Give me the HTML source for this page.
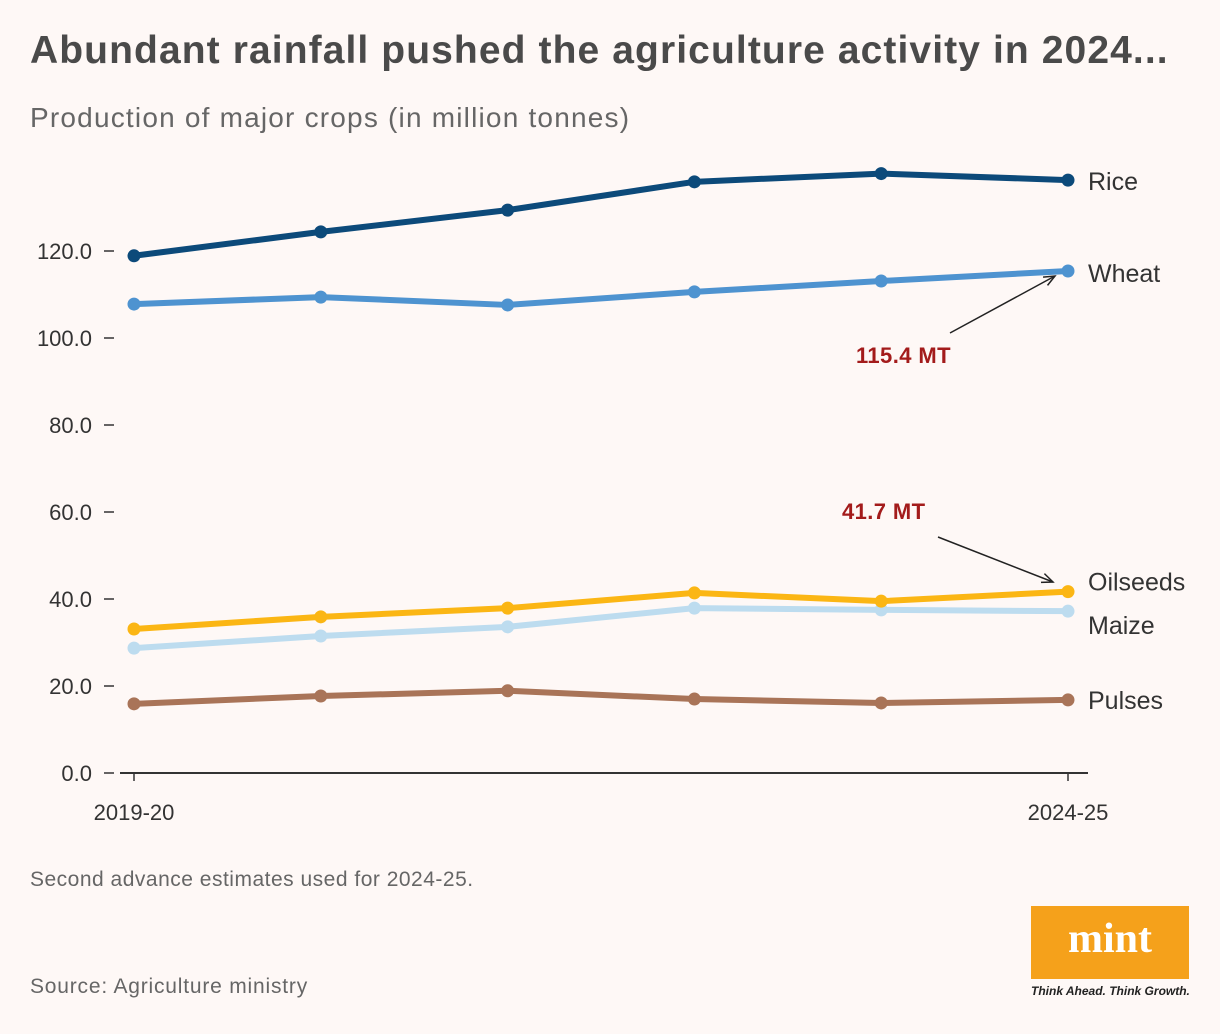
<!DOCTYPE html>
<html><head><meta charset="utf-8"><style>
body{margin:0;background:#fef8f6;font-family:"Liberation Sans",sans-serif;}
#wrap{position:relative;width:1220px;height:1034px;overflow:hidden;background:#fef8f6;}
.t{position:absolute;white-space:nowrap;}
</style></head><body>
<div id="wrap">
<div class="t" style="left:30px;top:29px;font-size:39px;font-weight:bold;color:#4a4a4a;letter-spacing:1.1px;">Abundant rainfall pushed the agriculture activity in 2024...</div>
<div class="t" style="left:30px;top:102px;font-size:28px;color:#666;letter-spacing:1.2px;">Production of major crops (in million tonnes)</div>
<svg id="chart" width="1220" height="850" style="position:absolute;left:0;top:0"></svg>
<div class="t" style="left:30px;top:868px;font-size:21px;color:#666;letter-spacing:0.5px;">Second advance estimates used for 2024-25.</div>
<div class="t" style="left:30px;top:975px;font-size:21px;color:#666;letter-spacing:0.8px;">Source: Agriculture ministry</div>
<div style="position:absolute;left:1031px;top:906px;width:158px;height:73px;background:#f5a11b;color:#fff;font-family:'Liberation Serif',serif;font-weight:bold;font-size:42px;text-align:center;line-height:66px;">mint</div>
<div class="t" style="left:1031px;top:984px;font-size:12px;font-style:italic;font-weight:bold;color:#222;">Think Ahead. Think Growth.</div>
</div>
<script>
const years=["2019-20","2020-21","2021-22","2022-23","2023-24","2024-25"];
const rice=[118.9,124.4,129.4,135.9,137.8,136.3];
const wheat=[107.8,109.4,107.6,110.6,113.1,115.4];
const oilseeds=[33.1,35.9,37.9,41.4,39.5,41.7];
const maize=[28.7,31.5,33.6,37.9,37.5,37.2];
const pulses=[15.9,17.7,18.9,17.0,16.1,16.8];
const yTicks=[0,20,40,60,80,100,120];
const xTickLabels=["2019-20","2024-25"];
const svg=document.getElementById('chart');
const NS="http://www.w3.org/2000/svg";
const x=i=>134+i*(1068-134)/(years.length-1);
const y=v=>773-v*4.35;
function mk(tag,attrs,parent){const e=document.createElementNS(NS,tag);for(const k in attrs)e.setAttribute(k,attrs[k]);(parent||svg).appendChild(e);return e;}
yTicks.forEach(v=>{
 const t=mk('text',{x:92,y:y(v)+8,'text-anchor':'end','font-size':22,fill:'#333','font-family':'Liberation Sans,sans-serif'});
 t.textContent=v.toFixed(1);
 
 
 const l=mk('line',{x1:104,x2:114,y1:y(v),y2:y(v),stroke:'#333','stroke-width':1.5});
 
 
});
const ax=mk('line',{x1:120,x2:1088,y1:773,y2:773,stroke:'#333','stroke-width':2});


[0,years.length-1].forEach((i,k)=>{
 const l=mk('line',{x1:x(i),x2:x(i),y1:773,y2:781,stroke:'#333','stroke-width':1.5});
 
 
 const t=mk('text',{x:x(i),y:820,'text-anchor':'middle','font-size':22,fill:'#333','font-family':'Liberation Sans,sans-serif'});
 t.textContent=xTickLabels[k];
 
 
});
const series=[["pulses",pulses,"#a97458","Pulses",0],["maize",maize,"#bddcef","Maize",14],["oilseeds",oilseeds,"#fbb614","Oilseeds",-10],["wheat",wheat,"#4e93d0","Wheat",2],["rice",rice,"#0c4a7a","Rice",1]];
series.forEach(([nm,d,c,lab,dy])=>{
 const p=mk('polyline',{points:d.map((v,i)=>x(i)+','+y(v)).join(' '),fill:'none',stroke:c,'stroke-width':6,'stroke-linejoin':'round'});
 
 
 d.forEach((v,i)=>{
  const ci=mk('circle',{cx:x(i),cy:y(v),r:6.5,fill:c});
  
  
 });
 const t=mk('text',{x:1088,y:y(d[d.length-1])+dy+9,'font-size':25,fill:'#333','font-family':'Liberation Sans,sans-serif'});
 t.textContent=lab;
 
 
});
function ann(txt,tx,ty,x1,y1,x2,y2,nm){
 const t=mk('text',{x:tx,y:ty,'font-size':22,'font-weight':'bold',fill:'#a31b1b','font-family':'Liberation Sans,sans-serif','letter-spacing':0.4});
 t.textContent=txt;
 
 
 const l=mk('line',{x1:x1,y1:y1,x2:x2,y2:y2,stroke:'#222','stroke-width':1.5});
 
 
 const a=Math.atan2(y2-y1,x2-x1),s=12;
 mk('polyline',{points:`${x2-s*Math.cos(a-0.4)},${y2-s*Math.sin(a-0.4)} ${x2},${y2} ${x2-s*Math.cos(a+0.4)},${y2-s*Math.sin(a+0.4)}`,fill:'none',stroke:'#222','stroke-width':1.5});
}
ann("115.4 MT",856,363,950,333,1055,276,"wheat-annotation");
ann("41.7 MT",842,519,938,537,1053,582,"oilseeds-annotation");
</script>
</body></html>
